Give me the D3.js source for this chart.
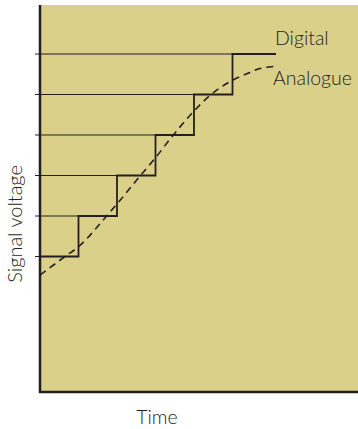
<!DOCTYPE html>
<html>
<head>
<meta charset="utf-8">
<script src="https://cdn.jsdelivr.net/npm/d3@7"></script>
<style>
  body { margin: 0; background: #fff; }
  text { font-family: Lato, "Noto Sans", sans-serif; font-weight: 300; fill: #231f20; }
</style>
</head>
<body>
<div id="chart"></div>
<script>
// Digital steps: time where each quantised level begins, and the level
var stepTimes = [0, 1, 2, 3, 4, 5];
var stepLevels = [1, 2, 3, 4, 5, 6];
var stepEnd = 6.13; // last level runs out to here

// Analogue signal
var analogueTime = [0, 0.65, 1.01, 1.73, 2.02, 2.6, 3.01, 3.42, 4.01, 4.37, 5.0, 5.37, 5.71, 6.06];
var analogueVolt = [0.54, 1.0, 1.25, 2.0, 2.32, 2.99, 3.45, 3.95, 4.6, 4.94, 5.35, 5.51, 5.64, 5.69];

var w = 358, h = 429;
var padLeft = 40, padTop = 5, axisY = 392;

var svg = d3.select("#chart").append("svg")
    .attr("width", w)
    .attr("height", h);

// scales: one step = 38.5px across, one level = 40.5px up
var x = d3.scaleLinear().domain([0, (w - padLeft) / 38.5]).range([padLeft, w]);
var y = d3.scaleLinear().domain([-95 / 40.5, 292 / 40.5]).range([axisY, padTop]);

// plot background
svg.append("rect")
    .attr("x", padLeft).attr("y", padTop)
    .attr("width", w - padLeft).attr("height", axisY - padTop)
    .attr("fill", "#dad08a");

// staircase points
var stairs = [];
stepTimes.forEach(function(t, i) {
    var tNext = i < stepTimes.length - 1 ? stepTimes[i + 1] : stepEnd;
    stairs.push([t, stepLevels[i]]);
    stairs.push([tNext, stepLevels[i]]);
});

// thin level lines from the tick to where each level ends
svg.selectAll(".level")
    .data(stepLevels)
    .enter().append("line")
    .attr("class", "level")
    .attr("x1", padLeft - 5)
    .attr("x2", function(d, i) { return x(i < stepTimes.length - 1 ? stepTimes[i + 1] : stepEnd); })
    .attr("y1", function(d) { return y(d); })
    .attr("y2", function(d) { return y(d); })
    .attr("stroke", "#231f20")
    .attr("stroke-width", 1);

// digital staircase
var line = d3.line()
    .x(function(d) { return x(d[0]); })
    .y(function(d) { return y(d[1]); });

svg.append("path")
    .datum(stairs)
    .attr("d", line)
    .attr("fill", "none")
    .attr("stroke", "#231f20")
    .attr("stroke-width", 1.8);

// analogue dashed curve
var curve = d3.line()
    .x(function(d) { return x(d[0]); })
    .y(function(d) { return y(d[1]); })
    .curve(d3.curveMonotoneX);

svg.append("path")
    .datum(analogueTime.map(function(t, i) { return [t, analogueVolt[i]]; }))
    .attr("d", curve)
    .attr("fill", "none")
    .attr("stroke", "#231f20")
    .attr("stroke-width", 1.6)
    .attr("stroke-dasharray", "7,5");

// axes lines
svg.append("line")
    .attr("x1", padLeft).attr("x2", padLeft)
    .attr("y1", padTop).attr("y2", axisY + 1)
    .attr("stroke", "#231f20").attr("stroke-width", 2.5);
svg.append("line")
    .attr("x1", padLeft - 1).attr("x2", w)
    .attr("y1", axisY).attr("y2", axisY)
    .attr("stroke", "#231f20").attr("stroke-width", 2.5);

// labels
svg.append("text")
    .attr("x", 275).attr("y", 45)
    .attr("font-size", 19.5)
    .text("Digital");
svg.append("text")
    .attr("x", 273).attr("y", 85)
    .attr("font-size", 19.5)
    .text("Analogue");
svg.append("text")
    .attr("x", 157).attr("y", 424)
    .attr("text-anchor", "middle")
    .attr("font-size", 19.5)
    .text("Time");
svg.append("text")
    .attr("transform", "translate(22,224) rotate(-90)")
    .attr("text-anchor", "middle")
    .attr("font-size", 20)
    .text("Signal voltage");
</script>
</body>
</html>
